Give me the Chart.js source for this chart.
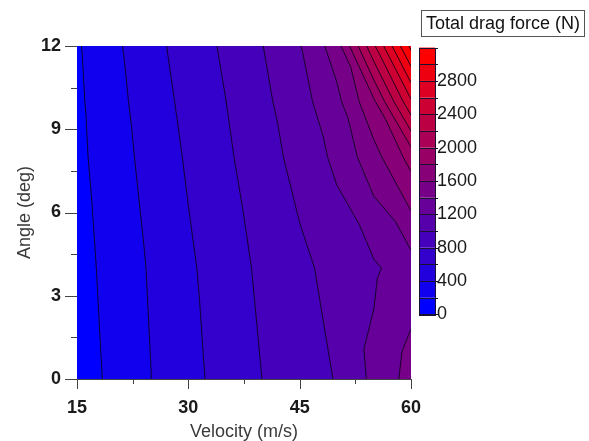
<!DOCTYPE html>
<html>
<head>
<meta charset="utf-8">
<script src="https://cdn.jsdelivr.net/npm/chart.js@4/dist/chart.umd.min.js"></script>
<style>
  body { margin: 0; background: #fff; }
  canvas { display: block; }
</style>
</head>
<body>
<canvas id="dragChart" width="589" height="441"></canvas>
<script>
// grid the drag force was read on
const velocities = [15, 20, 25, 30, 35, 40, 45, 50, 55, 60];
const angles = [0, 4, 8, 10, 12];

// total drag force (N), one row per angle
const dragAngle0 = [97, 248, 399, 541, 673, 802, 895, 1012, 1248, 1474];
const dragAngle4 = [122, 272, 421, 568, 708, 839, 954, 1069, 1172, 1310];
const dragAngle8 = [152, 313, 472, 625, 766, 914, 1067, 1244, 1525, 1874];
const dragAngle10 = [164, 335, 503, 657, 797, 953, 1123, 1345, 1768, 2570];
const dragAngle12 = [178, 360, 537, 689, 833, 997, 1190, 1500, 2367, 3250];

// contour levels and colour bar
const bandEdges = [0, 200, 400, 600, 800, 1000, 1200, 1400, 1600, 1800, 2000, 2200, 2400, 2600, 2800, 3000, 3200];
const colorbarLabels = [0, 400, 800, 1200, 1600, 2000, 2400, 2800];

// axis ticks
const xTickValues = [15, 22.5, 30, 37.5, 45, 52.5, 60];
const xLabelled = [15, 30, 45, 60];
const yTickValues = [0, 1.5, 3, 4.5, 6, 7.5, 9, 10.5, 12];
const yLabelled = [0, 3, 6, 9, 12];

const grid = [dragAngle0, dragAngle4, dragAngle8, dragAngle10, dragAngle12];
const FONT = "'Liberation Sans', Arial, sans-serif";

function bandColor(k) {
    const t = Math.max(0, Math.min(k, 15)) / 15;
    return [Math.round(255 * t), 0, Math.round(255 * (1 - t))];
}

function findCell(arr, v) {
    let i = 0;
    while (i < arr.length - 2 && v > arr[i + 1]) i++;
    return i;
}

// linear interpolation on triangles; each cell is split along the
// diagonal from its lower-right to its upper-left corner
function valueAt(v, a) {
    const i = findCell(velocities, v);
    const j = findCell(angles, a);
    const u = (v - velocities[i]) / (velocities[i + 1] - velocities[i]);
    const w = (a - angles[j]) / (angles[j + 1] - angles[j]);
    const f00 = grid[j][i], f10 = grid[j][i + 1], f01 = grid[j + 1][i], f11 = grid[j + 1][i + 1];
    if (u + w <= 1) return f00 + u * (f10 - f00) + w * (f01 - f00);
    return f11 + (1 - u) * (f01 - f11) + (1 - w) * (f10 - f11);
}

function contourPoints(level) {
    const pts = [];
    for (let j = 0; j < angles.length - 1; j++) {
        for (let i = 0; i < velocities.length - 1; i++) {
            const p00 = { x: velocities[i], y: angles[j], f: grid[j][i] };
            const p10 = { x: velocities[i + 1], y: angles[j], f: grid[j][i + 1] };
            const p11 = { x: velocities[i + 1], y: angles[j + 1], f: grid[j + 1][i + 1] };
            const p01 = { x: velocities[i], y: angles[j + 1], f: grid[j + 1][i] };
            [[p00, p10, p01], [p10, p11, p01]].forEach(tri => {
                const cross = [];
                [[0, 1], [1, 2], [2, 0]].forEach(([m, n]) => {
                    const a = tri[m], b = tri[n];
                    if ((a.f < level) !== (b.f < level)) {
                        const t = (level - a.f) / (b.f - a.f);
                        cross.push({ x: a.x + t * (b.x - a.x), y: a.y + t * (b.y - a.y) });
                    }
                });
                if (cross.length === 2) pts.push(cross[0], cross[1], { x: NaN, y: NaN });
            });
        }
    }
    return pts;
}

const contourDatasets = bandEdges.slice(1).map(level => ({
    label: String(level),
    data: contourPoints(level),
    showLine: true,
    pointRadius: 0,
    borderColor: 'rgba(10, 0, 25, 0.85)',
    borderWidth: 1,
    fill: false
}));

// filled bands, painted pixel by pixel through the scales
const fillPlugin = {
    id: 'contourFill',
    beforeDatasetsDraw(chart) {
        const { ctx, chartArea: area, scales } = chart;
        const w = Math.round(area.right - area.left);
        const h = Math.round(area.bottom - area.top);
        const off = document.createElement('canvas');
        off.width = w; off.height = h;
        const octx = off.getContext('2d');
        const img = octx.createImageData(w, h);
        for (let py = 0; py < h; py++) {
            const a = scales.y.getValueForPixel(area.top + py + 0.5);
            for (let px = 0; px < w; px++) {
                const v = scales.x.getValueForPixel(area.left + px + 0.5);
                const c = bandColor(Math.floor(valueAt(v, a) / 200));
                const k = (py * w + px) * 4;
                img.data[k] = c[0]; img.data[k + 1] = c[1]; img.data[k + 2] = c[2]; img.data[k + 3] = 255;
            }
        }
        octx.putImageData(img, 0, 0);
        ctx.drawImage(off, area.left, area.top);
    }
};

// tick marks, colour bar and its title box
const decorPlugin = {
    id: 'decor',
    afterDraw(chart) {
        const { ctx, chartArea: area, scales } = chart;
        ctx.save();
        ctx.strokeStyle = '#444';
        ctx.lineWidth = 1;
        ctx.beginPath();
        yTickValues.forEach(v => {
            const y = Math.round(scales.y.getPixelForValue(v)) + 0.5;
            const len = yLabelled.includes(v) ? 12 : 6;
            ctx.moveTo(area.left - len, y); ctx.lineTo(area.left, y);
        });
        xTickValues.forEach(v => {
            const x = Math.round(scales.x.getPixelForValue(v)) + 0.5;
            const len = xLabelled.includes(v) ? 10 : 5;
            ctx.moveTo(x, area.bottom); ctx.lineTo(x, area.bottom + len);
        });
        ctx.stroke();

        // colour bar
        const cb = scales.y2;
        const x0 = cb.left + 8, x1 = cb.left + 24;
        for (let k = 0; k < bandEdges.length - 1; k++) {
            const yb = cb.getPixelForValue(bandEdges[k]);
            const yt = cb.getPixelForValue(bandEdges[k + 1]);
            const c = bandColor(k);
            ctx.fillStyle = `rgb(${c[0]},${c[1]},${c[2]})`;
            ctx.fillRect(x0, yt, x1 - x0, yb - yt);
        }
        ctx.strokeStyle = '#1a1030';
        ctx.beginPath();
        bandEdges.forEach(e => {
            const y = Math.round(cb.getPixelForValue(e)) + 0.5;
            ctx.moveTo(x0, y); ctx.lineTo(x1 + 3, y);
        });
        ctx.stroke();
        const yTop = cb.getPixelForValue(bandEdges[bandEdges.length - 1]);
        const yBot = cb.getPixelForValue(0);
        ctx.strokeRect(x0 + 0.5, Math.round(yTop) + 0.5, x1 - x0, Math.round(yBot - yTop));

        // title box
        ctx.font = `18px ${FONT}`;
        ctx.fillStyle = '#111';
        ctx.textBaseline = 'middle';
        ctx.textAlign = 'left';
        const title = 'Total drag force (N)';
        const tw = ctx.measureText(title).width;
        ctx.fillText(title, 426, 24);
        ctx.strokeStyle = '#555';
        ctx.strokeRect(421.5, 10.5, Math.round(tw) + 9, 26);
        ctx.restore();
    }
};

new Chart(document.getElementById('dragChart'), {
    type: 'scatter',
    data: { datasets: contourDatasets },
    options: {
        responsive: false,
        animation: false,
        layout: { padding: { top: 46, left: 0, right: 0, bottom: 0 } },
        plugins: { legend: { display: false }, tooltip: { enabled: false } },
        scales: {
            x: {
                type: 'linear', min: 15, max: 60,
                grid: { display: false, drawTicks: false },
                border: { display: true, color: '#444', width: 1 },
                ticks: {
                    stepSize: 7.5, autoSkip: false, maxRotation: 0, padding: 18,
                    color: '#1a1a1a', font: { family: FONT, size: 18, weight: 'bold' },
                    callback: v => (xLabelled.includes(v) ? String(v) : '')
                },
                title: {
                    display: true, text: 'Velocity (m/s)', color: '#3a3a3a',
                    font: { family: FONT, size: 18, lineHeight: 1 }, padding: { top: 0, bottom: 0 }
                },
                afterFit: s => { s.height = 62; }
            },
            y: {
                type: 'linear', min: 0, max: 12,
                grid: { display: false, drawTicks: false },
                border: { display: true, color: '#444', width: 1 },
                ticks: {
                    stepSize: 1.5, autoSkip: false, padding: 16,
                    color: '#1a1a1a', font: { family: FONT, size: 18, weight: 'bold' },
                    callback: v => (yLabelled.includes(v) ? String(v) : '')
                },
                title: {
                    display: true, text: 'Angle (deg)', color: '#3a3a3a',
                    font: { family: FONT, size: 18 }, padding: { top: 14, bottom: 0 }
                },
                afterFit: s => { s.width = 77; }
            },
            y2: {
                type: 'linear', position: 'right', min: -776, max: 3219,
                grid: { display: false, drawTicks: false },
                border: { display: false },
                afterBuildTicks: s => { s.ticks = colorbarLabels.map(v => ({ value: v })); },
                ticks: {
                    padding: 26, autoSkip: false,
                    color: '#1a1a1a', font: { family: FONT, size: 18 },
                    callback: v => String(v)
                },
                afterFit: s => { s.width = 178; }
            }
        }
    },
    plugins: [fillPlugin, decorPlugin]
});
</script>
</body>
</html>
